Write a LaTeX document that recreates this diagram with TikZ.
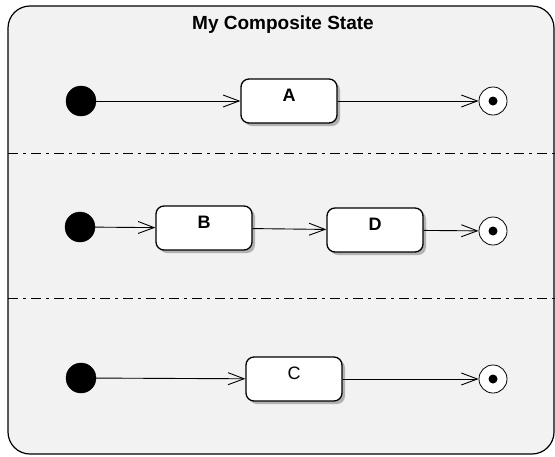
\documentclass[tikz,border=0pt]{standalone}
\usepackage{fontspec}
\setmainfont{Liberation Sans}
\usetikzlibrary{arrows.meta,shadows}
\definecolor{regionbg}{HTML}{F2F2F2}
\tikzset{
  initstate/.style={circle,fill=black,draw=black,minimum size=30pt,inner sep=0pt},
  finalstate/.style={circle,draw=black,fill=white,line width=0.8pt,minimum size=28pt,inner sep=0pt},
  finaldot/.style={circle,fill=black,minimum size=9pt,inner sep=0pt},
  statebox/.style={draw=black,line width=1.3pt,fill=white,rounded corners=8pt,
    minimum width=96pt,minimum height=44pt,inner sep=0pt,
    text height=13pt,text depth=13pt,font=\fontsize{18}{20}\selectfont\bfseries,
    drop shadow={shadow xshift=3pt,shadow yshift=-3pt,fill=black!30,opacity=1}},
  trans/.style={line width=0.9pt,-{Straight Barb[length=16pt,width=12pt,line width=0.9pt]}},
  regionsep/.style={line width=1pt,dash pattern=on 10pt off 5pt on 3pt off 5pt}
}
\begin{document}
\begin{tikzpicture}[x=1pt,y=-1pt]
\useasboundingbox (0,0) rectangle (555,456);
\fill[white] (0,0) rectangle (555,456);
\draw[fill=regionbg,line width=1.2pt,rounded corners=22pt] (8,6) rectangle (554,454);
\node[anchor=base,font=\fontsize{19}{22}\selectfont\bfseries] (title) at (283,29) {My Composite State};
\draw[regionsep] (8,153) coordinate (s1a) -- (555,153) coordinate (s1b);
\draw[regionsep] (8,298) coordinate (s2a) -- (555,298) coordinate (s2b);
% row 1
\node[initstate] (i1) at (81,101) {};
\node[statebox] (A) at (289,101) {A};
\node[finalstate] (f1) at (493,101) {};
\node[finaldot] (f1d) at (f1) {};
\draw[trans] (i1) -- (A);
\draw[trans] (A) -- (f1);
% row 2
\node[initstate] (i2) at (80,227) {};
\node[statebox] (B) at (204,228) {B};
\node[statebox] (D) at (375,230) {D};
\node[finalstate] (f2) at (493,231) {};
\node[finaldot] (f2d) at (f2) {};
\draw[trans] (i2) -- (B);
\draw[trans] (B) -- (D);
\draw[trans] (D) -- (f2);
% row 3
\node[initstate] (i3) at (81,378) {};
\node[statebox,font=\fontsize{18}{20}\selectfont] (C) at (294,379) {C};
\node[finalstate] (f3) at (493,379) {};
\node[finaldot] (f3d) at (f3) {};
\draw[trans] (i3) -- (C);
\draw[trans] (C) -- (f3);
\end{tikzpicture}
\end{document}
